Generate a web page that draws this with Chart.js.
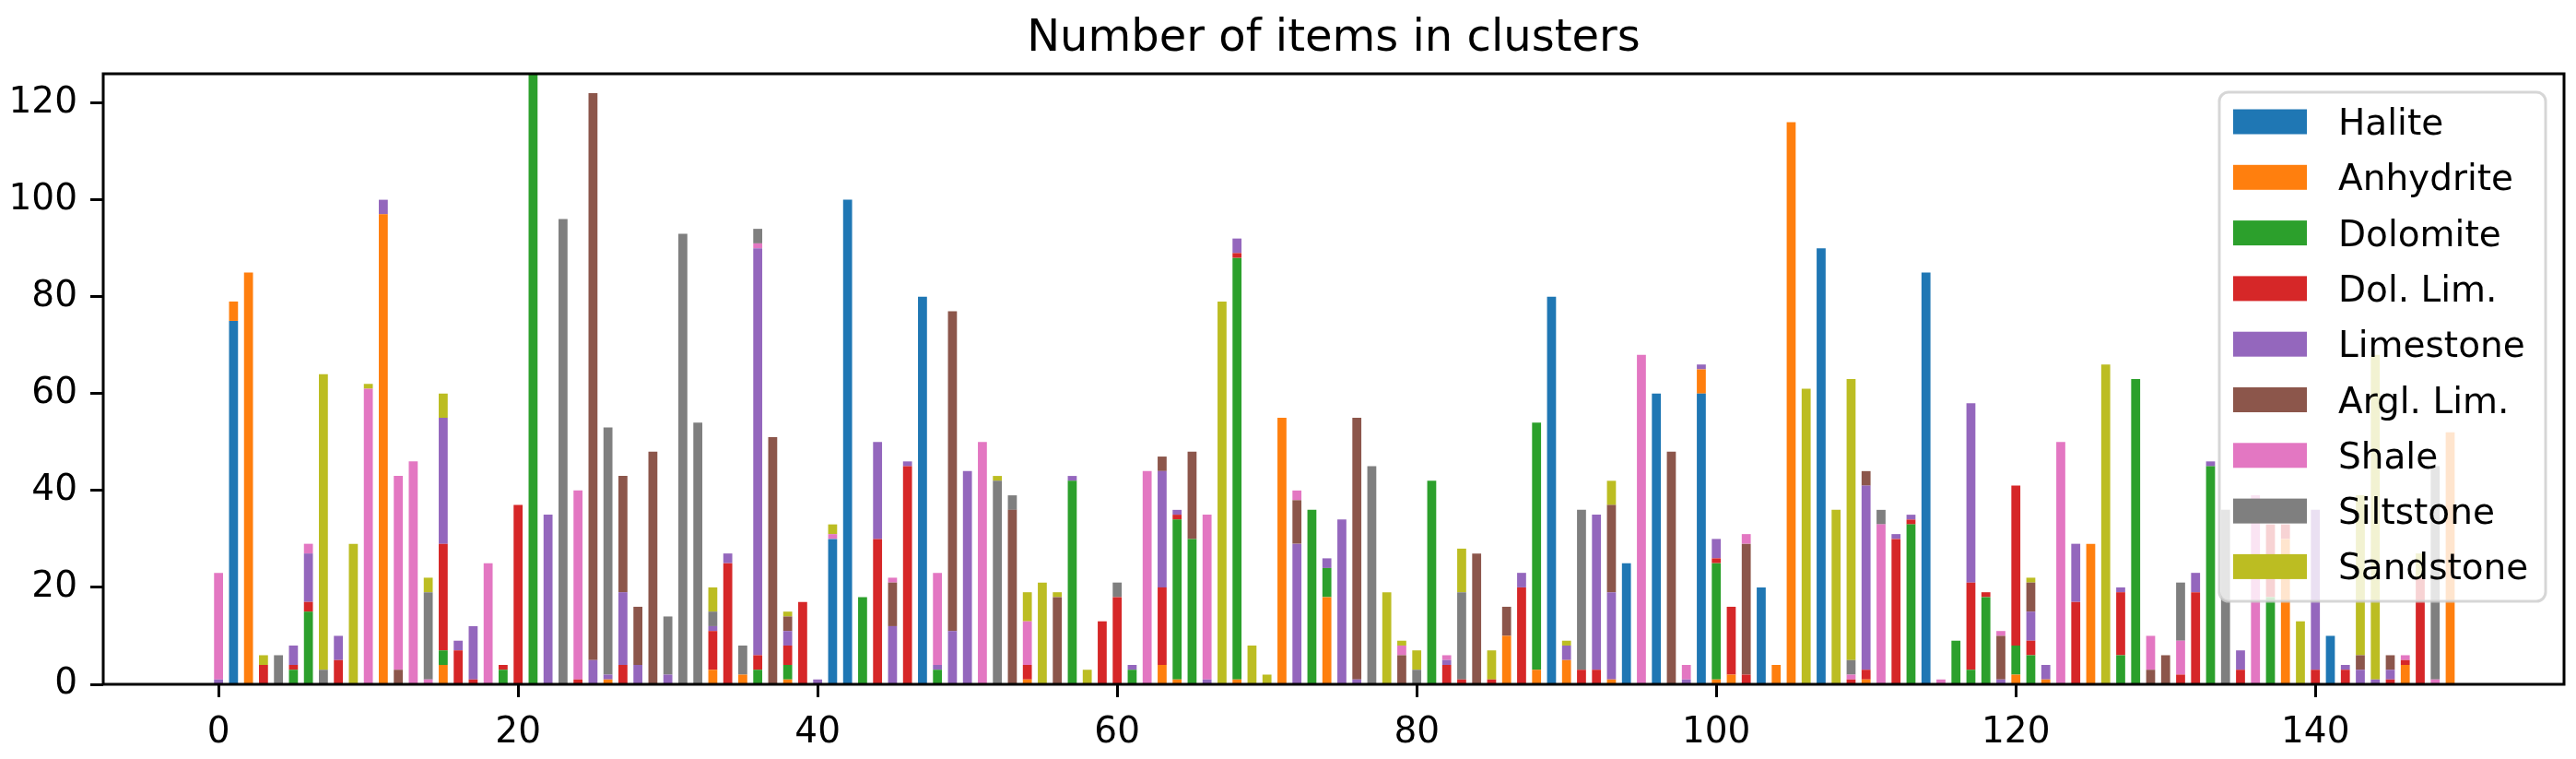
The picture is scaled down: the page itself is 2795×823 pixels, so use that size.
<!DOCTYPE html>
<html>
<head>
<meta charset="utf-8">
<title>Number of items in clusters</title>
<script src="https://cdn.jsdelivr.net/npm/chart.js@4.4.1/dist/chart.umd.min.js"></script>
<style>
  body { margin: 0; background: #fff; }
  #wrap { width: 2795px; height: 823px; }
</style>
</head>
<body>
<div id="wrap"><canvas id="myChart" width="2795" height="823"></canvas></div>
<script>
// cluster ids on the x axis
const clusters = Array.from({ length: 150 }, (_, i) => i);
const xTicks = [0, 20, 40, 60, 80, 100, 120, 140];
const yTicks = [0, 20, 40, 60, 80, 100, 120];

const lithologies = ["Halite", "Anhydrite", "Dolomite", "Dol. Lim.", "Limestone", "Argl. Lim.", "Shale", "Siltstone", "Sandstone"];

// items per cluster, one array per lithology
const halite = [
  0, 75, 0, 0, 0, 0, 0, 0, 0, 0,
  0, 0, 0, 0, 0, 0, 0, 0, 0, 0,
  0, 0, 0, 0, 0, 0, 0, 0, 0, 0,
  0, 0, 0, 0, 0, 0, 0, 0, 0, 0,
  0, 30, 100, 0, 0, 0, 0, 80, 0, 0,
  0, 0, 0, 0, 0, 0, 0, 0, 0, 0,
  0, 0, 0, 0, 0, 0, 0, 0, 0, 0,
  0, 0, 0, 0, 0, 0, 0, 0, 0, 0,
  0, 0, 0, 0, 0, 0, 0, 0, 0, 80,
  0, 0, 0, 0, 25, 0, 60, 0, 0, 60,
  0, 0, 0, 20, 0, 0, 0, 90, 0, 0,
  0, 0, 0, 0, 85, 0, 0, 0, 0, 0,
  0, 0, 0, 0, 0, 0, 0, 0, 0, 0,
  0, 0, 0, 0, 0, 0, 0, 0, 0, 0,
  0, 10, 0, 0, 0, 0, 0, 0, 0, 0
];
const anhydrite = [
  0, 4, 85, 0, 0, 0, 0, 0, 0, 0,
  0, 97, 0, 0, 0, 4, 0, 0, 0, 0,
  0, 0, 0, 0, 0, 0, 1, 0, 0, 0,
  0, 0, 0, 3, 0, 2, 0, 0, 1, 0,
  0, 0, 0, 0, 0, 0, 0, 0, 0, 0,
  0, 0, 0, 0, 1, 0, 0, 0, 0, 0,
  0, 0, 0, 4, 1, 0, 0, 0, 1, 0,
  0, 55, 0, 0, 18, 0, 0, 0, 0, 0,
  0, 0, 0, 0, 0, 0, 10, 0, 3, 0,
  5, 0, 0, 1, 0, 0, 0, 0, 0, 5,
  1, 2, 0, 0, 4, 116, 0, 0, 0, 0,
  1, 0, 0, 0, 0, 0, 0, 0, 0, 0,
  2, 0, 1, 0, 0, 29, 0, 0, 0, 0,
  0, 0, 0, 0, 0, 0, 0, 0, 30, 0,
  0, 0, 0, 0, 0, 0, 4, 0, 0, 52
];
const dolomite = [
  0, 0, 0, 0, 0, 3, 15, 0, 0, 0,
  0, 0, 0, 0, 0, 3, 0, 0, 0, 3,
  0, 130, 0, 0, 0, 0, 0, 0, 0, 0,
  0, 0, 0, 0, 0, 0, 3, 0, 3, 0,
  0, 0, 0, 18, 0, 0, 0, 0, 3, 0,
  0, 0, 0, 0, 0, 0, 0, 42, 0, 0,
  0, 3, 0, 0, 33, 30, 0, 0, 87, 0,
  0, 0, 0, 36, 6, 0, 0, 0, 0, 0,
  0, 42, 0, 0, 0, 0, 0, 0, 51, 0,
  0, 0, 0, 0, 0, 0, 0, 0, 0, 0,
  24, 0, 0, 0, 0, 0, 0, 0, 0, 0,
  0, 0, 0, 33, 0, 0, 9, 3, 18, 0,
  6, 6, 0, 0, 0, 0, 0, 6, 63, 0,
  0, 0, 0, 45, 0, 0, 0, 18, 0, 0,
  0, 0, 0, 0, 0, 0, 0, 0, 0, 0
];
const dolLim = [
  0, 0, 0, 4, 0, 1, 2, 0, 5, 0,
  0, 0, 0, 0, 0, 22, 7, 1, 0, 1,
  37, 0, 0, 0, 1, 0, 0, 4, 0, 0,
  0, 0, 0, 8, 25, 0, 3, 0, 4, 17,
  0, 0, 0, 0, 30, 0, 45, 0, 0, 0,
  0, 0, 0, 0, 3, 0, 0, 0, 0, 13,
  18, 0, 0, 16, 1, 0, 0, 0, 1, 0,
  0, 0, 0, 0, 0, 0, 0, 0, 0, 0,
  0, 0, 4, 1, 0, 1, 0, 20, 0, 0,
  0, 3, 3, 0, 0, 0, 0, 0, 0, 0,
  1, 14, 2, 0, 0, 0, 0, 0, 0, 1,
  2, 0, 30, 1, 0, 0, 0, 18, 1, 0,
  33, 3, 0, 0, 17, 0, 0, 13, 0, 0,
  0, 2, 19, 0, 0, 3, 0, 15, 3, 0,
  3, 0, 3, 0, 0, 1, 1, 22, 0, 0
];
const limestone = [
  1, 0, 0, 0, 0, 4, 10, 0, 5, 0,
  0, 3, 0, 0, 0, 26, 2, 11, 0, 0,
  0, 0, 35, 0, 0, 5, 1, 15, 4, 0,
  2, 0, 0, 1, 2, 0, 84, 0, 3, 0,
  1, 0, 0, 0, 20, 12, 1, 0, 1, 11,
  44, 0, 0, 0, 0, 0, 0, 1, 0, 0,
  0, 1, 0, 24, 1, 0, 1, 0, 3, 0,
  0, 0, 29, 0, 2, 34, 1, 0, 0, 0,
  0, 0, 1, 0, 0, 0, 0, 3, 0, 0,
  3, 0, 32, 18, 0, 0, 0, 0, 1, 1,
  4, 0, 0, 0, 0, 0, 0, 0, 0, 0,
  38, 0, 1, 1, 0, 0, 0, 37, 0, 1,
  0, 6, 3, 0, 12, 0, 0, 1, 0, 0,
  0, 0, 4, 1, 0, 4, 0, 0, 0, 0,
  33, 0, 1, 3, 1, 2, 0, 0, 0, 0
];
const arglLim = [
  0, 0, 0, 0, 0, 0, 0, 0, 0, 0,
  0, 0, 3, 0, 0, 0, 0, 0, 0, 0,
  0, 0, 0, 0, 0, 117, 0, 24, 12, 48,
  0, 0, 0, 0, 0, 0, 0, 51, 3, 0,
  0, 0, 0, 0, 0, 9, 0, 0, 0, 66,
  0, 0, 0, 36, 0, 0, 18, 0, 0, 0,
  0, 0, 0, 3, 0, 18, 0, 0, 0, 0,
  0, 0, 9, 0, 0, 0, 54, 0, 0, 6,
  0, 0, 0, 0, 27, 0, 6, 0, 0, 0,
  0, 0, 0, 18, 0, 0, 0, 48, 0, 0,
  0, 0, 27, 0, 0, 0, 0, 0, 0, 0,
  3, 0, 0, 0, 0, 0, 0, 0, 0, 9,
  0, 6, 0, 0, 0, 0, 0, 0, 0, 3,
  6, 0, 0, 0, 0, 0, 0, 0, 0, 0,
  0, 0, 0, 3, 0, 3, 0, 0, 0, 0
];
const shale = [
  22, 0, 0, 0, 0, 0, 2, 0, 0, 0,
  61, 0, 40, 46, 1, 0, 0, 0, 25, 0,
  0, 0, 0, 0, 39, 0, 0, 0, 0, 0,
  0, 0, 0, 0, 0, 0, 1, 0, 0, 0,
  0, 1, 0, 0, 0, 1, 0, 0, 19, 0,
  0, 50, 0, 0, 9, 0, 0, 0, 0, 0,
  0, 0, 44, 0, 0, 0, 34, 0, 0, 0,
  0, 0, 2, 0, 0, 0, 0, 0, 0, 2,
  0, 0, 1, 0, 0, 0, 0, 0, 0, 0,
  0, 0, 0, 0, 0, 68, 0, 0, 3, 0,
  0, 0, 2, 0, 0, 0, 0, 0, 0, 1,
  0, 33, 0, 0, 0, 1, 0, 0, 0, 1,
  0, 0, 0, 50, 0, 0, 0, 0, 0, 7,
  0, 7, 0, 0, 0, 0, 39, 0, 0, 0,
  0, 0, 0, 0, 0, 0, 1, 0, 1, 0
];
const siltstone = [
  0, 0, 0, 0, 6, 0, 0, 3, 0, 0,
  0, 0, 0, 0, 18, 0, 0, 0, 0, 0,
  0, 0, 0, 96, 0, 0, 51, 0, 0, 0,
  12, 93, 54, 3, 0, 6, 3, 0, 0, 0,
  0, 0, 0, 0, 0, 0, 0, 0, 0, 0,
  0, 0, 42, 3, 0, 0, 0, 0, 0, 0,
  3, 0, 0, 0, 0, 0, 0, 0, 0, 0,
  0, 0, 0, 0, 0, 0, 0, 45, 0, 0,
  3, 0, 0, 18, 0, 0, 0, 0, 0, 0,
  0, 33, 0, 0, 0, 0, 0, 0, 0, 0,
  0, 0, 0, 0, 0, 0, 0, 0, 0, 3,
  0, 3, 0, 0, 0, 0, 0, 0, 0, 0,
  0, 0, 0, 0, 0, 0, 0, 0, 0, 0,
  0, 12, 0, 0, 36, 0, 0, 0, 0, 0,
  0, 0, 0, 0, 0, 0, 0, 0, 44, 0
];
const sandstone = [
  0, 0, 0, 2, 0, 0, 0, 61, 0, 29,
  1, 0, 0, 0, 3, 5, 0, 0, 0, 0,
  0, 0, 0, 0, 0, 0, 0, 0, 0, 0,
  0, 0, 0, 5, 0, 0, 0, 0, 1, 0,
  0, 2, 0, 0, 0, 0, 0, 0, 0, 0,
  0, 0, 1, 0, 6, 21, 1, 0, 3, 0,
  0, 0, 0, 0, 0, 0, 0, 79, 0, 8,
  2, 0, 0, 0, 0, 0, 0, 0, 19, 1,
  4, 0, 0, 9, 0, 6, 0, 0, 0, 0,
  1, 0, 0, 5, 0, 0, 0, 0, 0, 0,
  0, 0, 0, 0, 0, 0, 61, 0, 36, 58,
  0, 0, 0, 0, 0, 0, 0, 0, 0, 0,
  0, 1, 0, 0, 0, 0, 66, 0, 0, 0,
  0, 0, 0, 0, 0, 0, 0, 0, 0, 13,
  0, 0, 0, 33, 67, 0, 0, 5, 0, 0
];

const counts = [halite, anhydrite, dolomite, dolLim, limestone, arglLim, shale, siltstone, sandstone];
const colors = ["#1f77b4", "#ff7f0e", "#2ca02c", "#d62728", "#9467bd", "#8c564b", "#e377c2", "#7f7f7f", "#bcbd22"];

const FONT = "'DejaVu Sans', 'Liberation Sans', sans-serif";
Chart.defaults.font.family = FONT;
Chart.defaults.color = "#000";

const datasets = lithologies.map((name, i) => ({
  label: name,
  data: counts[i].map((v, j) => ({ x: clusters[j], y: v })),
  backgroundColor: colors[i],
  borderWidth: 0,
  barPercentage: 0.6,
  categoryPercentage: 1.0
}));

// title, frame and legend drawn by hand to look like the matplotlib figure
const figureBits = {
  id: "figureBits",
  afterDatasetsDraw(chart) {
    const { ctx, chartArea } = chart;
    ctx.save();
    ctx.strokeStyle = "#000";
    ctx.lineWidth = 3;
    ctx.strokeRect(chartArea.left, chartArea.top, chartArea.right - chartArea.left, chartArea.bottom - chartArea.top);

    ctx.fillStyle = "#000";
    ctx.font = `48px ${FONT}`;
    ctx.textAlign = "center";
    ctx.textBaseline = "alphabetic";
    ctx.fillText("Number of items in clusters", (chartArea.left + chartArea.right) / 2, 55);
    ctx.restore();
  },
  afterDraw(chart) {
    const { ctx, chartArea } = chart;
    const boxW = 354, boxH = 552;
    const bx = chartArea.right - 20 - boxW;
    const by = chartArea.top + 20;
    ctx.save();
    ctx.beginPath();
    ctx.roundRect(bx, by, boxW, boxH, 10);
    ctx.fillStyle = "rgba(255,255,255,0.8)";
    ctx.fill();
    ctx.lineWidth = 3;
    ctx.strokeStyle = "rgba(204,204,204,0.8)";
    ctx.stroke();

    ctx.font = `39px ${FONT}`;
    ctx.textAlign = "left";
    ctx.textBaseline = "alphabetic";
    chart.data.datasets.forEach((ds, i) => {
      const cy = by + 32 + i * 60.3;
      ctx.fillStyle = ds.backgroundColor;
      ctx.fillRect(bx + 15, cy - 13.5, 80, 27);
      ctx.fillStyle = "#000";
      ctx.fillText(ds.label, bx + 129, cy + 14);
    });
    ctx.restore();
  }
};

const config = {
  type: "bar",
  data: { datasets },
  options: {
    responsive: false,
    devicePixelRatio: 1,
    animation: false,
    layout: { padding: { top: 80, right: 13, left: 0, bottom: 0 } },
    plugins: {
      legend: { display: false },
      title: { display: false },
      tooltip: { enabled: false }
    },
    scales: {
      x: {
        type: "linear",
        stacked: true,
        offset: false,
        min: -7.7,
        max: 156.6,
        border: { display: false },
        grid: { offset: false, drawOnChartArea: false, drawTicks: true, tickLength: 14, tickWidth: 3, tickColor: "#000" },
        ticks: { font: { size: 39 }, color: "#000", padding: 15, maxRotation: 0, includeBounds: false },
        afterBuildTicks: (scale) => { scale.ticks = xTicks.map(v => ({ value: v })); },
        afterFit: (scale) => { scale.height = 81; }
      },
      y: {
        stacked: true,
        min: 0,
        max: 126,
        border: { display: false },
        grid: { drawOnChartArea: false, drawTicks: true, tickLength: 14, tickWidth: 3, tickColor: "#000" },
        ticks: { font: { size: 39 }, color: "#000", padding: 14, includeBounds: false },
        afterBuildTicks: (scale) => { scale.ticks = yTicks.map(v => ({ value: v })); },
        afterFit: (scale) => { scale.width = 112; }
      }
    }
  },
  plugins: [figureBits]
};

const myChart = document.getElementById("myChart");
new Chart(myChart, config);
</script>
</body>
</html>
